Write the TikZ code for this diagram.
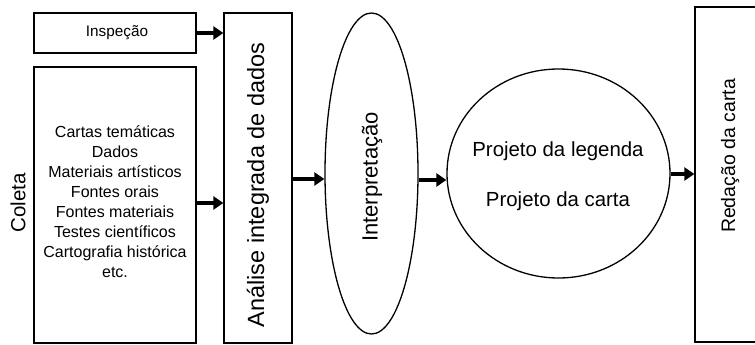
\documentclass[tikz,border=0pt]{standalone}
\usepackage{fontspec}
\setmainfont{Liberation Sans}
\usetikzlibrary{arrows.meta,shapes.geometric}
\begin{document}
\begin{tikzpicture}[x=1pt,y=-1pt,
  box/.style={draw,line width=1.3pt,rectangle,inner sep=0pt,minimum width=#1},
  oval/.style={draw,line width=1.3pt,ellipse,inner sep=0pt},
  lbl/.style={inner sep=0pt,align=center},
  arr/.style={line width=4pt,-{Triangle[length=10pt,width=13pt]}},
]
\useasboundingbox (0,0) rectangle (755,345);
% shapes
\node[box=162pt,minimum height=40pt] (insp) at (115,33) {};
\node[box=162pt,minimum height=276pt] (coleta) at (115,205) {};
\node[box=68pt,minimum height=330pt] (anal) at (258,178) {};
\node[oval,minimum width=93pt,minimum height=321pt] (interp) at (371.5,173.5) {};
\node[oval,minimum width=223pt,minimum height=209pt] (proj) at (558.5,173.5) {};
\node[box=75pt,minimum height=335pt] (red) at (732.5,174.5) {};
% texts
\node[lbl,font=\fontsize{15.3}{18}\selectfont] (tinsp) at (117,33) {Inspeção};
\node[lbl,font=\fontsize{20.5}{24}\selectfont,rotate=90] (tcoleta) at (18,203) {Coleta};
\node[lbl,font=\fontsize{16}{20}\selectfont] (tlist) at (115,202) {Cartas temáticas\\Dados\\Materiais artísticos\\Fontes orais\\Fontes materiais\\Testes científicos\\Cartografia histórica\\etc.};
\node[lbl,font=\fontsize{23.5}{28}\selectfont,rotate=90] (tanal) at (258,185) {Análise integrada de dados};
\node[lbl,font=\fontsize{22}{26}\selectfont,rotate=90] (tinterp) at (372,177) {Interpretação};
\node[lbl,font=\fontsize{20.4}{24}\selectfont] (tleg) at (558,151) {Projeto da legenda};
\node[lbl,font=\fontsize{20.4}{24}\selectfont] (tcarta) at (558,201) {Projeto da carta};
\node[lbl,font=\fontsize{19.5}{24}\selectfont,rotate=90] (tred) at (730,156) {Redação da carta};
% arrow heights
\coordinate (y1) at (0,33);
\coordinate (y2) at (0,203);
\coordinate (y3) at (0,179);
\coordinate (y4) at (0,180);
\coordinate (y5) at (0,174);
% arrows
\draw[arr] (insp.east |- y1) -- (anal.west |- y1);
\draw[arr] (coleta.east |- y2) -- (anal.west |- y2);
\draw[arr] (anal.east |- y3) -- (interp.west |- y3);
\draw[arr] (interp.east |- y4) -- (proj.west |- y4);
\draw[arr] (proj.east |- y5) -- (red.west |- y5);
\end{tikzpicture}
\end{document}
